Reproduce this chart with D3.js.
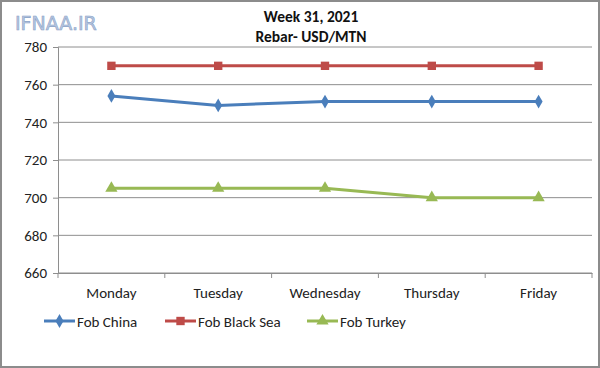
<!DOCTYPE html>
<html>
<head>
<meta charset="utf-8">
<script src="https://cdn.jsdelivr.net/npm/d3@7"></script>
<style>
  body { margin: 0; background: #fff; }
  text { font-family: Calibri, Carlito, "Open Sans", sans-serif; }
</style>
</head>
<body>
<svg id="chart" width="600" height="368"></svg>
<script>
var days = ["Monday", "Tuesday", "Wednesday", "Thursday", "Friday"];
var fobChina = [754, 749, 751, 751, 751];
var fobBlackSea = [770, 770, 770, 770, 770];
var fobTurkey = [705, 705, 705, 700, 700];
var yTicks = [660, 680, 700, 720, 740, 760, 780];

var series = [
    { name: "Fob China", values: fobChina, color: "#4a7ebb", marker: "diamond" },
    { name: "Fob Black Sea", values: fobBlackSea, color: "#be4b48", marker: "square" },
    { name: "Fob Turkey", values: fobTurkey, color: "#98b954", marker: "triangle" }
];

var svg = d3.select("#chart");
var plotLeft = 58, plotRight = 592, plotTop = 47, plotBottom = 273;

svg.append("rect").attr("x", 1).attr("y", 1).attr("width", 598).attr("height", 366)
    .attr("fill", "#fff").attr("stroke", "#8c8c8c").attr("stroke-width", 2);

var x = d3.scaleBand().domain(days).range([plotLeft, plotRight]);
var y = d3.scaleLinear().domain([660, 780]).range([plotBottom, plotTop]);

// grid
svg.append("g").selectAll("line").data(yTicks).join("line")
    .attr("x1", plotLeft).attr("x2", plotRight)
    .attr("y1", function (d) { return y(d); }).attr("y2", function (d) { return y(d); })
    .attr("stroke", "#8e8e8e").attr("stroke-width", 1);

var yAxis = svg.append("g").attr("transform", "translate(" + plotLeft + ",0)")
    .call(d3.axisLeft(y).tickValues(yTicks).tickSize(5).tickPadding(6));
yAxis.select(".domain").attr("stroke", "#8e8e8e");
yAxis.selectAll(".tick line").attr("stroke", "#8e8e8e");
yAxis.selectAll("text").attr("font-size", 15).attr("fill", "#222")
    .style("font-family", "Calibri, Carlito, 'Open Sans', sans-serif");

var xAxis = svg.append("g").attr("transform", "translate(0," + plotBottom + ")")
    .call(d3.axisBottom(x).tickSize(0).tickPadding(14));
xAxis.select(".domain").attr("stroke", "#8e8e8e");
xAxis.selectAll("text").attr("font-size", 15).attr("fill", "#222")
    .style("font-family", "Calibri, Carlito, 'Open Sans', sans-serif");
// category boundary ticks
svg.append("g").selectAll("line").data(days.concat(["end"])).join("line")
    .attr("x1", function (d, i) { return plotLeft + i * x.step(); })
    .attr("x2", function (d, i) { return plotLeft + i * x.step(); })
    .attr("y1", plotBottom).attr("y2", plotBottom + 5)
    .attr("stroke", "#8e8e8e");

var line = d3.line()
    .x(function (d, i) { return x(days[i]) + x.bandwidth() / 2; })
    .y(function (d) { return y(d); });

var symbolType = { diamond: d3.symbolDiamond, square: d3.symbolSquare, triangle: d3.symbolTriangle };
var symbolSize = { diamond: 55, square: 70, triangle: 65 };

series.forEach(function (s) {
    svg.append("path").datum(s.values).attr("d", line)
        .attr("fill", "none").attr("stroke", s.color).attr("stroke-width", 3);
    svg.append("g").selectAll("path").data(s.values).join("path")
        .attr("transform", function (d, i) {
            return "translate(" + (x(days[i]) + x.bandwidth() / 2) + "," + y(d) + ")";
        })
        .attr("d", d3.symbol().type(symbolType[s.marker]).size(symbolSize[s.marker]))
        .attr("fill", s.color);
});

// legend
var legendX = [44, 165, 307];
var legend = svg.append("g").selectAll("g").data(series).join("g")
    .attr("transform", function (d, i) { return "translate(" + legendX[i] + ",321)"; });
legend.append("line").attr("x1", 0).attr("x2", 31).attr("y1", 0).attr("y2", 0)
    .attr("stroke", function (d) { return d.color; }).attr("stroke-width", 3);
legend.append("path").attr("transform", "translate(15.5,0)")
    .attr("d", function (d) { return d3.symbol().type(symbolType[d.marker]).size(symbolSize[d.marker])(); })
    .attr("fill", function (d) { return d.color; });
legend.append("text").attr("x", 33).attr("y", 5.5).attr("font-size", 15).attr("fill", "#222")
    .text(function (d) { return d.name; });

// title
svg.append("text").attr("x", 311).attr("y", 22).attr("text-anchor", "middle")
    .attr("font-size", 15.5).attr("font-weight", "bold").attr("fill", "#111").text("Week 31, 2021");
svg.append("text").attr("x", 311).attr("y", 42).attr("text-anchor", "middle")
    .attr("font-size", 15.5).attr("font-weight", "bold").attr("fill", "#111").text("Rebar- USD/MTN");

// watermark
svg.append("text").attr("x", 15).attr("y", 30)
    .attr("font-size", 19).attr("fill", "#b8c8e0").attr("stroke", "#8aa2c8").attr("stroke-width", 0.6)
    .style("font-family", "'DejaVu Sans', sans-serif")
    .text("IFNAA.IR");
</script>
</body>
</html>
